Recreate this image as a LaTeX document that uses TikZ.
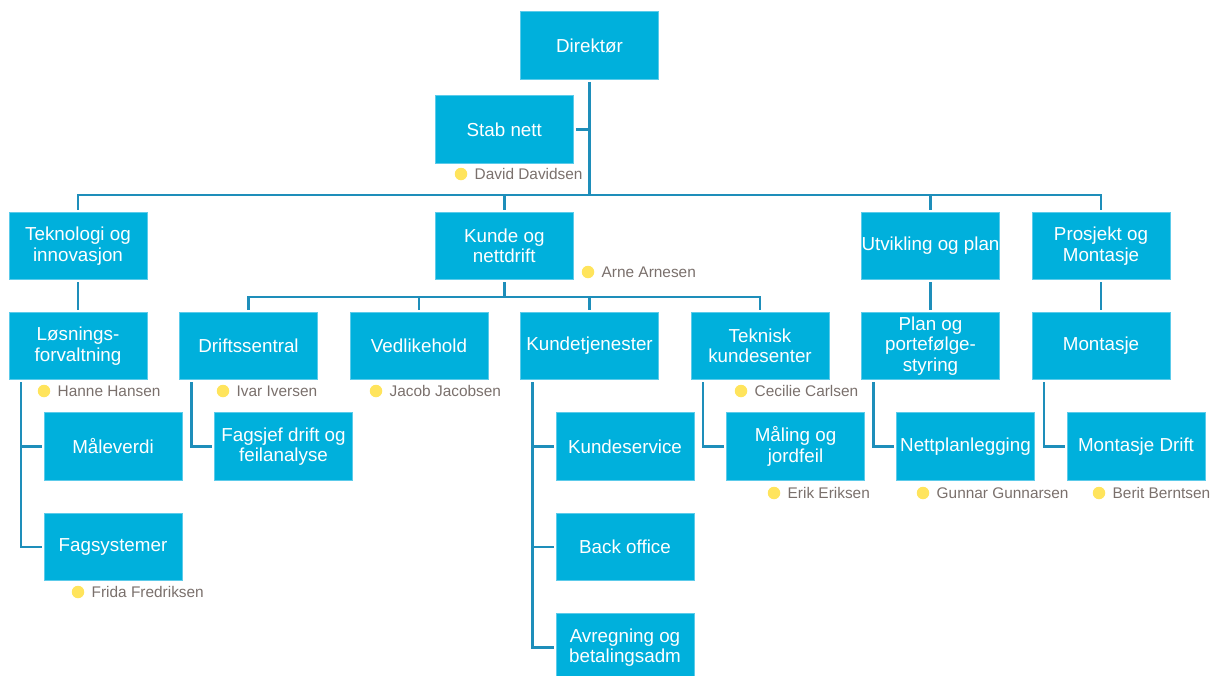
\documentclass[tikz,border=0pt]{standalone}
\usepackage{fontspec}
\setmainfont{Liberation Sans}
\definecolor{boxfill}{HTML}{00B0DC}
\definecolor{boxedge}{HTML}{5CCBEA}
\definecolor{wirecol}{HTML}{1E8EBA}
\definecolor{persondot}{HTML}{FFE45C}
\definecolor{persontext}{HTML}{7A706C}
% one name tag: yellow dot plus grey name
\newcommand\persontag[4]{%
  \node[pdot] (#1dot) at (#2,#3) {};
  \node[pname] (#1) at ([xshift=13.5pt,yshift=-5.4pt]#1dot.center) {#4};}
\begin{document}
\begin{tikzpicture}[x=1pt,y=-1pt,
  unit/.style={draw=boxedge, line width=0.8pt, fill=boxfill, text=white,
    minimum width=138pt, minimum height=67.5pt, inner sep=0pt, outer sep=2.5pt,
    align=center, font=\fontsize{18.8}{20.5}\selectfont},
  wire/.style={draw=wirecol, line width=2.8pt},
  pdot/.style={circle, fill=persondot, minimum size=12.5pt, inner sep=0pt},
  pname/.style={anchor=base west, inner sep=0pt, text=persontext,
    font=\fontsize{15.4}{17}\selectfont}]
\useasboundingbox (0,0) rectangle (1220,675);
\clip (0,0) rectangle (1220,675);

% top levels
\node[unit] (dir) at (589.5,45.5) {Direktør};
\node[unit] (stab) at (504.25,129.5) {Stab nett};

% divisions
\node[unit] (tek) at (78,246) {Teknologi og\\innovasjon};
\node[unit] (kun) at (504.25,246) {Kunde og\\nettdrift};
\node[unit] (utv) at (930.5,246) {Utvikling og plan};
\node[unit] (pro) at (1101,246) {Prosjekt og\\Montasje};

% departments
\node[unit] (los) at (78,346) {Løsnings-\\forvaltning};
\node[unit] (drs) at (248.5,346) {Driftssentral};
\node[unit] (ved) at (419,346) {Vedlikehold};
\node[unit] (kdt) at (589.5,346) {Kundetjenester};
\node[unit] (tks) at (760,346) {Teknisk\\kundesenter};
\node[unit] (pps) at (930.5,346) {Plan og\\portefølge-\\styring};
\node[unit] (mon) at (1101,346) {Montasje};

% groups
\node[unit] (mal) at (113,446.5) {Måleverdi};
\node[unit] (fag) at (113,547) {Fagsystemer};
\node[unit] (fsj) at (283.5,446.5) {Fagsjef drift og\\feilanalyse};
\node[unit] (ksv) at (625,446.5) {Kundeservice};
\node[unit] (bko) at (625,547) {Back office};
\node[unit] (avr) at (625,647.5) {Avregning og\\betalingsadm};
\node[unit] (mjf) at (795.5,446.5) {Måling og\\jordfeil};
\node[unit] (npl) at (965.5,446.5) {Nettplanlegging};
\node[unit] (mdr) at (1136,446.5) {Montasje Drift};

% bus junctions
\coordinate (bus1) at (589.5,195);
\coordinate (bus2) at (504.25,297);

% connectors
\draw[wire] (dir.south) -- (bus1);
\draw[wire] (stab.east) -- (stab.east -| bus1);
\draw[wire] (tek.north) |- (bus1) -| (pro.north);
\draw[wire] (bus1) -| (kun.north);
\draw[wire] (bus1) -| (utv.north);

\draw[wire] (kun.south) -- (bus2);
\draw[wire] (drs.north) |- (bus2) -| (tks.north);
\draw[wire] (bus2) -| (ved.north);
\draw[wire] (bus2) -| (kdt.north);

\draw[wire] (tek.south) -- (los.north);
\draw[wire] (utv.south) -- (pps.north);
\draw[wire] (pro.south) -- (mon.north);

\draw[wire] ([xshift=14.5pt]los.south west) |- (mal.west);
\draw[wire] ([xshift=14.5pt]los.south west) |- (fag.west);
\draw[wire] ([xshift=14.5pt]drs.south west) |- (fsj.west);
\draw[wire] ([xshift=14.5pt]kdt.south west) |- (ksv.west);
\draw[wire] ([xshift=14.5pt]kdt.south west) |- (bko.west);
\draw[wire] ([xshift=14.5pt]kdt.south west) |- (avr.west);
\draw[wire] ([xshift=14.5pt]tks.south west) |- (mjf.west);
\draw[wire] ([xshift=14.5pt]pps.south west) |- (npl.west);
\draw[wire] ([xshift=14.5pt]mon.south west) |- (mdr.west);

% name tags
\persontag{david}{461}{174}{David Davidsen}
\persontag{arne}{588}{272}{Arne Arnesen}
\persontag{hanne}{44}{391}{Hanne Hansen}
\persontag{ivar}{223}{391}{Ivar Iversen}
\persontag{jacob}{376}{391}{Jacob Jacobsen}
\persontag{cecilie}{741}{391}{Cecilie Carlsen}
\persontag{erik}{774}{493}{Erik Eriksen}
\persontag{gunnar}{923}{493}{Gunnar Gunnarsen}
\persontag{berit}{1099}{493}{Berit Berntsen}
\persontag{frida}{78}{592}{Frida Fredriksen}
\end{tikzpicture}
\end{document}
